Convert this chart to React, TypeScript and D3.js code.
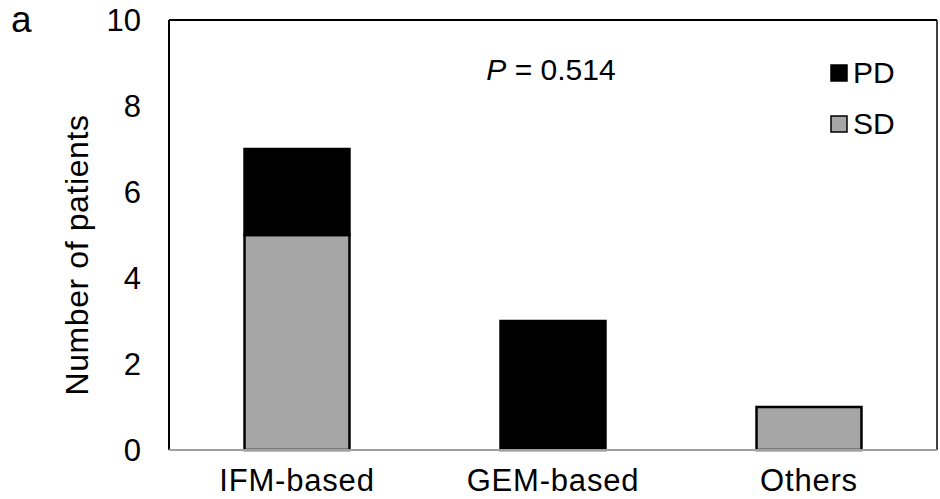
import * as d3 from 'd3';

const categories = ['IFM-based', 'GEM-based', 'Others'];
const sdValues = [5, 0, 1];
const pdValues = [2, 3, 0];
const yTicks = [0, 2, 4, 6, 8, 10];
const seriesNames = ['PD', 'SD'];
const seriesColors = ['#000000', '#a6a6a6'];

const W = 940;
const H = 499;
const m = { left: 169, right: 3, top: 20, bottom: 49 };
const font = '"Liberation Sans", Arial, Helvetica, sans-serif';

export default function App() {
  const x = d3.scaleBand().domain(categories).range([m.left, W - m.right]).paddingInner(0.59).paddingOuter(0.295);
  const y = d3.scaleLinear().domain([0, 10]).range([H - m.bottom, m.top]);

  const rows = categories.map((c, i) => ({ cat: c, SD: sdValues[i], PD: pdValues[i] }));
  const stacked = d3.stack<any>().keys(['SD', 'PD'])(rows);

  return (
    <svg width={W} height={H} style={{ position: 'absolute', left: 0, top: 0, background: '#fff' }} fontFamily={font}>
      <text x={11} y={32} fontSize={37}>a</text>

      {stacked.map(layer => (
        <g key={layer.key}>
          {layer.map((d, i) => {
            const h = y(d[0]) - y(d[1]);
            if (h <= 0) return null;
            return (
              <rect key={i} x={x(categories[i])!} y={y(d[1])} width={x.bandwidth()} height={h}
                fill={layer.key === 'PD' ? seriesColors[0] : seriesColors[1]} stroke="#000" strokeWidth={2.5} />
            );
          })}
        </g>
      ))}

      {/* frame */}
      <line x1={m.left} x2={W - m.right} y1={y(10)} y2={y(10)} stroke="#000" strokeWidth={2} />
      <line x1={m.left} x2={m.left} y1={y(10)} y2={y(0)} stroke="#000" strokeWidth={2} />
      <line x1={W - m.right} x2={W - m.right} y1={y(10)} y2={y(0)} stroke="#000" strokeWidth={1.5} />
      <line x1={m.left} x2={W - m.right} y1={y(0)} y2={y(0)} stroke="#a0a0a0" strokeWidth={2} />

      {yTicks.map(t => (
        <text key={t} x={141} y={y(t)} dy="0.36em" textAnchor="end" fontSize={31}>{t}</text>
      ))}

      {categories.map(c => (
        <text key={c} x={x(c)! + x.bandwidth() / 2} y={491} textAnchor="middle" fontSize={31} letterSpacing={0.8}>{c}</text>
      ))}

      <text transform={`translate(88,255) rotate(-90)`} textAnchor="middle" fontSize={32} letterSpacing={0.6}>Number of patients</text>

      <text x={551} y={80} textAnchor="middle" fontSize={30}>
        <tspan fontStyle="italic">P</tspan> = 0.514
      </text>

      {seriesNames.map((s, i) => (
        <g key={s}>
          <rect x={831} y={65 + i * 51} width={16} height={16} fill={seriesColors[i]} stroke="#000" strokeWidth={1.5} />
          <text x={853} y={83 + i * 51} fontSize={30}>{s}</text>
        </g>
      ))}
    </svg>
  );
}
